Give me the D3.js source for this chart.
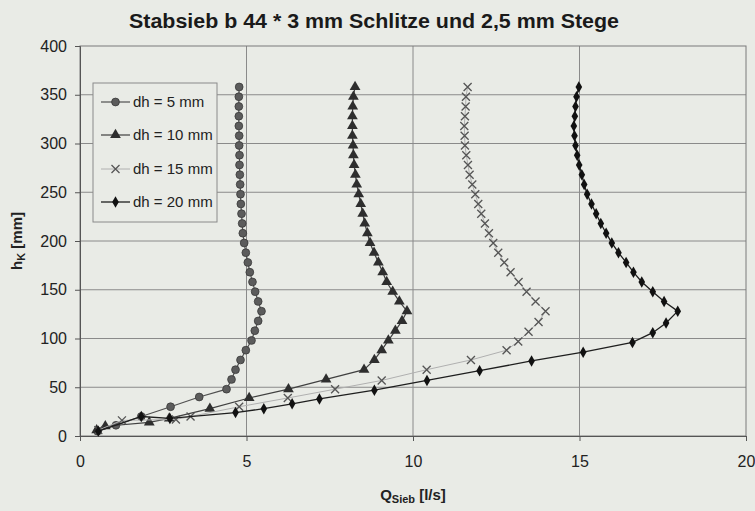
<html>
<head>
<script src="https://d3js.org/d3.v7.min.js"></script>
<style>
  body { margin: 0; background: #e9ebe6; }
  text { font-family: "Liberation Sans", Arial, sans-serif; }
</style>
</head>
<body>
<svg id="chart" width="755" height="511"></svg>
<script>
// h values (mm) and Q values (l/s)
const hUpper = [358, 348, 338, 328, 318, 308, 298, 288, 278, 268, 258, 248, 238, 228, 218, 208, 198, 188, 178, 168, 158, 148, 138, 128];

const h5 = hUpper.concat([118, 108, 98, 88, 78, 68, 58, 48, 40, 30, 20, 11, 5]);
const q5 = [4.78, 4.77, 4.77, 4.77, 4.77, 4.78, 4.78, 4.79, 4.79, 4.80, 4.81, 4.82, 4.83, 4.85, 4.87, 4.89, 4.93, 4.98, 5.04, 5.10, 5.18, 5.26, 5.35, 5.45,
            5.35, 5.25, 5.15, 4.98, 4.82, 4.67, 4.55, 4.40, 3.58, 2.72, 1.84, 1.08, 0.53];

const h10 = hUpper.concat([118, 108, 98, 88, 78, 68, 58, 48, 39, 28, 18, 14, 10, 6]);
const q10 = [8.26, 8.21, 8.19, 8.18, 8.18, 8.18, 8.20, 8.21, 8.23, 8.27, 8.31, 8.37, 8.43, 8.49, 8.55, 8.63, 8.71, 8.83, 8.96, 9.09, 9.21, 9.39, 9.59, 9.82,
             9.67, 9.47, 9.26, 9.06, 8.84, 8.53, 7.39, 6.26, 5.08, 3.90, 2.68, 2.08, 0.76, 0.5];

const h15 = hUpper.concat([117, 107, 97, 88, 78, 68, 57, 48, 39, 30, 20, 17, 16, 6]);
const q15 = [11.64, 11.59, 11.58, 11.56, 11.54, 11.55, 11.56, 11.60, 11.65, 11.70, 11.78, 11.87, 11.96, 12.05, 12.16, 12.28, 12.41, 12.56, 12.74, 12.93, 13.17, 13.41, 13.68, 13.98,
             13.77, 13.47, 13.16, 12.81, 11.74, 10.41, 9.06, 7.66, 6.24, 4.78, 3.32, 2.88, 1.26, 0.55];

const h20 = hUpper.concat([116, 106, 96, 86, 77, 67, 57, 47, 38, 33, 28, 24, 18, 20, 5]);
const q20 = [14.98, 14.91, 14.88, 14.86, 14.83, 14.85, 14.88, 14.93, 14.99, 15.07, 15.14, 15.23, 15.36, 15.50, 15.64, 15.80, 15.97, 16.17, 16.40, 16.62, 16.87, 17.20, 17.54, 17.95,
             17.60, 17.20, 16.59, 15.11, 13.56, 12.00, 10.42, 8.84, 7.19, 6.37, 5.52, 4.67, 2.70, 1.84, 0.55];

const seriesNames = ["dh = 5 mm", "dh = 10 mm", "dh = 15 mm", "dh = 20 mm"];
const xTicks = [0, 5, 10, 15, 20];
const yTicks = [0, 50, 100, 150, 200, 250, 300, 350, 400];

const series = [
  { name: seriesNames[0], h: h5, q: q5, line: "#505050", lw: 1.2, marker: "circle", fill: "#5c5c5c", stroke: "#3a3a3a" },
  { name: seriesNames[1], h: h10, q: q10, line: "#404040", lw: 1.2, marker: "triangle", fill: "#2e2e2e", stroke: "#2e2e2e" },
  { name: seriesNames[2], h: h15, q: q15, line: "#b0b0b0", lw: 1, marker: "cross", fill: "none", stroke: "#555" },
  { name: seriesNames[3], h: h20, q: q20, line: "#1e1e1e", lw: 1.3, marker: "diamond", fill: "#111", stroke: "#111" }
];

const svg = d3.select("#chart");
const mLeft = 80, mRight = 746, mTop = 46, mBottom = 436;

const x = d3.scaleLinear().domain([0, 20]).range([mLeft, mRight]);
const y = d3.scaleLinear().domain([0, 400]).range([mBottom, mTop]);

svg.append("rect").attr("width", 755).attr("height", 511).attr("fill", "#e9ebe6");

// title
svg.append("text")
  .attr("x", 374).attr("y", 28)
  .attr("text-anchor", "middle")
  .attr("font-size", 20).attr("font-weight", "bold")
  .attr("fill", "#1a1a1a")
  .attr("textLength", 490).attr("lengthAdjust", "spacingAndGlyphs")
  .text("Stabsieb b 44 * 3 mm Schlitze und 2,5 mm Stege");

// grid
svg.append("g").selectAll("line").data(yTicks.filter(d => d > 0 && d < 400))
  .enter().append("line")
  .attr("x1", mLeft).attr("x2", mRight)
  .attr("y1", d => y(d)).attr("y2", d => y(d))
  .attr("stroke", "#8a8a8a").attr("stroke-width", 1);
svg.append("g").selectAll("line").data(xTicks.filter(d => d > 0 && d < 20))
  .enter().append("line")
  .attr("x1", d => x(d)).attr("x2", d => x(d))
  .attr("y1", mTop).attr("y2", mBottom)
  .attr("stroke", "#8a8a8a").attr("stroke-width", 1);

// plot frame
svg.append("rect")
  .attr("x", mLeft).attr("y", mTop)
  .attr("width", mRight - mLeft).attr("height", mBottom - mTop)
  .attr("fill", "none").attr("stroke", "#7a7a7a");

// axes
const xAxis = svg.append("g").attr("transform", `translate(0,${mBottom})`)
  .call(d3.axisBottom(x).tickValues(xTicks).tickSize(5).tickPadding(15));
const yAxis = svg.append("g").attr("transform", `translate(${mLeft},0)`)
  .call(d3.axisLeft(y).tickValues(yTicks).tickSize(5).tickPadding(8));
[xAxis, yAxis].forEach(a => {
  a.select(".domain").attr("stroke", "#555");
  a.selectAll(".tick line").attr("stroke", "#555");
  a.selectAll(".tick text").attr("font-size", 16).attr("fill", "#222")
    .attr("font-family", "'Liberation Sans', Arial, sans-serif");
});

// axis titles
const xt = svg.append("text")
  .attr("x", 413).attr("y", 500)
  .attr("text-anchor", "middle")
  .attr("font-size", 15).attr("font-weight", "bold").attr("fill", "#222");
xt.append("tspan").text("Q");
xt.append("tspan").attr("font-size", 11).attr("dy", 3).text("Sieb");
xt.append("tspan").attr("dy", -3).text(" [l/s]");

const yt = svg.append("text")
  .attr("transform", "translate(22,241) rotate(-90)")
  .attr("text-anchor", "middle")
  .attr("font-size", 15).attr("font-weight", "bold").attr("fill", "#222");
yt.append("tspan").text("h");
yt.append("tspan").attr("font-size", 11).attr("dy", 3).text("K");
yt.append("tspan").attr("dy", -3).text(" [mm]");

// markers
function drawMarker(g, s, cx, cy) {
  if (s.marker === "circle") {
    g.append("circle").attr("cx", cx).attr("cy", cy).attr("r", 3.9)
      .attr("fill", s.fill).attr("stroke", s.stroke).attr("stroke-width", 0.8);
  } else if (s.marker === "triangle") {
    g.append("path").attr("transform", `translate(${cx},${cy})`)
      .attr("d", d3.symbol().type(d3.symbolTriangle).size(50)())
      .attr("fill", s.fill);
  } else if (s.marker === "cross") {
    g.append("path").attr("transform", `translate(${cx},${cy})`)
      .attr("d", "M-4,-4L4,4M-4,4L4,-4")
      .attr("stroke", s.stroke).attr("stroke-width", 1.3).attr("fill", "none");
  } else {
    g.append("path").attr("transform", `translate(${cx},${cy})`)
      .attr("d", d3.symbol().type(d3.symbolDiamond).size(38)())
      .attr("fill", s.fill);
  }
}

const line = d3.line().x(d => x(d[0])).y(d => y(d[1]));

series.forEach(s => {
  const pts = s.q.map((q, i) => [q, s.h[i]]);
  const g = svg.append("g");
  g.append("path").datum(pts)
    .attr("d", line)
    .attr("fill", "none").attr("stroke", s.line).attr("stroke-width", s.lw);
  pts.forEach(p => drawMarker(g, s, x(p[0]), y(p[1])));
});

// legend
const lg = svg.append("g");
lg.append("rect").attr("x", 93).attr("y", 83).attr("width", 124).attr("height", 139)
  .attr("fill", "#e9ebe6").attr("stroke", "#8a8a8a");
const legendY = [102, 135, 169, 202];
series.forEach((s, i) => {
  const ly = legendY[i];
  lg.append("line").attr("x1", 101).attr("x2", 130).attr("y1", ly).attr("y2", ly)
    .attr("stroke", s.line).attr("stroke-width", s.lw);
  drawMarker(lg, s, 115.5, ly);
  lg.append("text").attr("x", 133).attr("y", ly + 5)
    .attr("font-size", 15).attr("fill", "#222").text(s.name);
});
</script>
</body>
</html>
